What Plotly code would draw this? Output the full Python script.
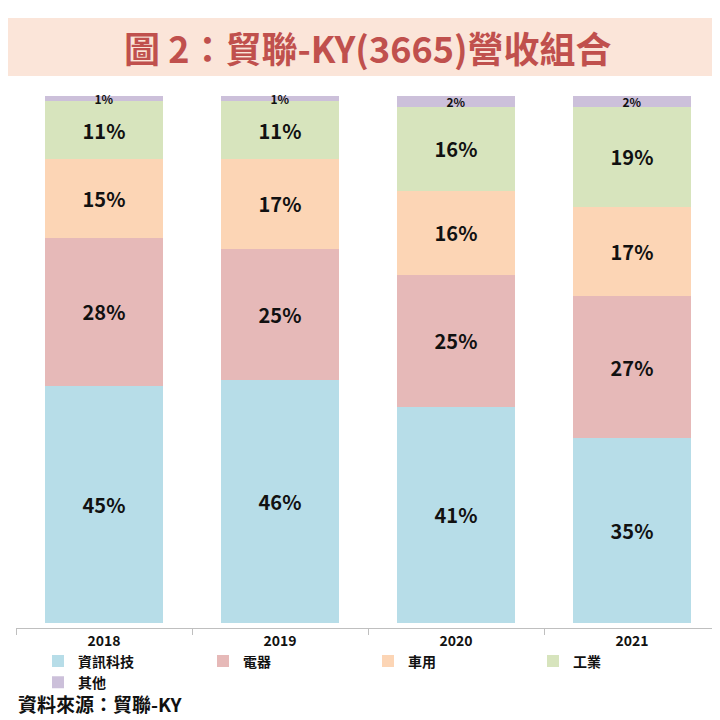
import plotly.graph_objects as go

years = ["2018", "2019", "2020", "2021"]
segments = ["資訊科技", "電器", "車用", "工業", "其他"]
shares = {
    "資訊科技": [45, 46, 41, 35],
    "電器": [28, 25, 25, 27],
    "車用": [15, 17, 16, 17],
    "工業": [11, 11, 16, 19],
    "其他": [1, 1, 2, 2],
}
colors = {
    "資訊科技": "#b7dde8",
    "電器": "#e6b9b8",
    "車用": "#fcd5b5",
    "工業": "#d7e4bd",
    "其他": "#ccc0da",
}
FONT = "Noto Sans CJK TC"
PLOT_H = 720 - 88 - 100


def py(px):
    # pixel row from top -> paper y
    return (720 - 100 - px) / PLOT_H


fig = go.Figure()
for seg in segments:
    small = seg == "其他"
    fig.add_trace(go.Bar(
        x=years, y=shares[seg], name=seg,
        marker=dict(color=colors[seg], line=dict(width=0)),
        text=[f"<b>{v}%</b>" for v in shares[seg]],
        textposition="inside", insidetextanchor="middle",
        textfont=dict(size=12 if small else 20, color="#111111", family=FONT),
        constraintext="none" if small else "inside",
        cliponaxis=False,
    ))

fig.update_layout(
    barmode="stack", bargap=0.33,
    width=720, height=720,
    margin=dict(l=8, r=8, t=88, b=100),
    paper_bgcolor="white", plot_bgcolor="white",
    font=dict(family=FONT, color="#111111"),
    showlegend=True,
    legend=dict(orientation="h", x=0.5, xanchor="center", y=py(664), yanchor="middle",
                traceorder="normal", entrywidth=120,
                font=dict(size=14, family=FONT), itemclick=False),
    xaxis=dict(showline=True, linecolor="#bfbfbf", ticks="outside", tickson="boundaries",
               ticklen=6, tickcolor="#bfbfbf",
               tickfont=dict(size=14, family=FONT), tickprefix="<b>", ticksuffix="</b>"),
    yaxis=dict(range=[-1, 100], visible=False),
)
for tr in fig.data:
    tr.name = f"<b>{tr.name}</b>"

fig.add_shape(type="rect", xref="paper", yref="paper", x0=-0.02, x1=1.02,
              y0=py(68), y1=py(10),
              fillcolor="#fbe5d9", line=dict(width=0), layer="below")
fig.add_annotation(text="<b>圖 2：貿聯-KY(3665)營收組合</b>", xref="paper", yref="paper",
                   x=0.5, y=py(39), yanchor="middle", showarrow=False,
                   font=dict(size=36, color="#c0504d", family=FONT))
fig.add_annotation(text="<b>資料來源：貿聯-KY</b>", xref="paper", yref="paper",
                   x=0.0, xanchor="left", y=py(695), yanchor="middle", showarrow=False,
                   font=dict(size=19, color="#111111", family=FONT))

fig.write_html("out.html")
